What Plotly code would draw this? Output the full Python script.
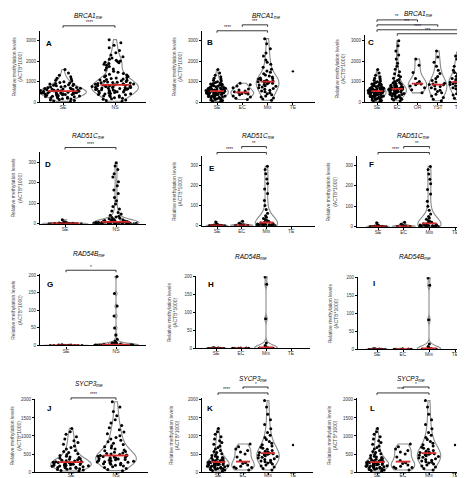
import numpy as np
import plotly.graph_objects as go

W, H = 465, 478

# ---------------- data ----------------
SE_BRCA1 = [1590, 1420, 1310, 1230, 1165, 1120, 1060, 1025, 990, 960, 935, 905, 880, 870, 845, 820,
            805, 790, 770, 745, 730, 715, 700, 688, 672, 660, 648, 633, 620, 612, 600, 590, 583, 574,
            566, 555, 548, 540, 532, 525, 516, 505, 497, 488, 480, 470, 462, 455, 446, 437, 428, 420,
            412, 403, 395, 384, 373, 362, 350, 338, 326, 312, 300, 288, 272, 258, 243, 230, 212, 196,
            180, 160, 142, 120, 98, 75, 52, 30]
NS_BRCA1 = [3050, 2900, 2780, 2650, 2520, 2410, 2300, 2220, 2150, 2090, 2040, 2010, 1980, 1950, 1920,
            1890, 1850, 1800, 1740, 1680, 1620, 1560, 1500, 1450, 1400, 1360, 1320, 1290, 1260, 1230,
            1200, 1175, 1150, 1125, 1100, 1080, 1060, 1040, 1020, 1000, 985, 970, 955, 940, 925, 910,
            895, 880, 866, 852, 840, 828, 816, 805, 795, 785, 775, 765, 755, 745, 735, 725, 715, 705,
            695, 684, 672, 660, 648, 636, 624, 612, 600, 586, 572, 558, 544, 530, 515, 500, 485, 470,
            455, 440, 422, 405, 388, 370, 350, 330, 310, 290, 265, 240, 215, 190, 160, 130, 100, 70, 40]
ECpure_BRCA1 = [920, 850, 780, 700, 640, 590, 540, 500, 470, 440, 420, 390, 350, 300, 250, 190, 120]
Mix_BRCA1 = [3100, 2850, 2600, 2400, 2250, 2050, 1950, 1850, 1700, 1600, 1520, 1450, 1380, 1320, 1270,
             1220, 1180, 1150, 1120, 1090, 1060, 1030, 1010, 1000, 990, 970, 950, 920, 890, 860, 830,
             800, 770, 740, 700, 660, 620, 580, 540, 500, 450, 400, 350, 300, 250, 200, 150, 90]
TEpure_BRCA1 = [1500]
EC_BRCA1 = [3000, 2750, 2500, 2300, 2100, 1900, 1750, 1600, 1480, 1380, 1300, 1230, 1160, 1100, 1050,
            1000, 960, 930, 900, 870, 845, 820, 800, 780, 760, 740, 725, 710, 695, 680, 668, 656, 645,
            634, 622, 610, 598, 586, 574, 562, 550, 538, 524, 510, 496, 480, 465, 450, 434, 418, 400,
            382, 364, 345, 325, 305, 284, 262, 240, 215, 190, 160, 130, 95, 60]
OR_BRCA1 = [2100, 1800, 1450, 1150, 1000, 920, 880, 850, 780, 700, 600, 450]
YST_BRCA1 = [2500, 2200, 1950, 1750, 1550, 1400, 1250, 1150, 1050, 980, 920, 880, 860, 840, 800, 760,
             700, 640, 580, 520, 450, 380, 300, 220, 140, 60]
TE_BRCA1 = [2450, 2250, 2100, 1950, 1850, 1750, 1650, 1550, 1450, 1380, 1320, 1260, 1200, 1150, 1100,
            1060, 1030, 1010, 990, 970, 950, 920, 890, 860, 830, 790, 750, 700, 650, 600, 540, 480,
            410, 340, 270, 190, 110]

SE_RAD51C = [19, 8, 6, 5, 4, 3.5, 3, 2.5, 2, 2, 1.5, 1.5, 1, 1, 1, 0.8, 0.6, 0.5, 0.4, 0.3, 0.2, 0.2,
             0.1, 0.1]
NS_RAD51C = [298, 282, 265, 245, 228, 205, 186, 165, 148, 128, 112, 96, 84, 72, 62, 55, 48, 42, 37, 33,
             30, 27, 24, 22, 20, 18, 16, 15, 14, 13, 12, 11, 10, 9.5, 9, 8.5, 8, 7.5, 7, 6.5, 6, 5.5,
             5, 4.5, 4, 4, 3.5, 3.5, 3, 3, 2.5, 2.5, 2, 2, 2, 1.5, 1.5, 1.5, 1, 1, 1, 1, 0.8, 0.8,
             0.6, 0.6, 0.5, 0.4, 0.3, 0.2]
EC_RAD51C = [22, 12, 8, 5, 3, 2, 1.5, 1, 0.8, 0.5, 0.3]
Mix_RAD51C = [295, 280, 258, 232, 210, 182, 160, 125, 100, 80, 62, 50, 42, 36, 30, 26, 22, 19, 16, 14,
              12, 10, 9, 8, 7, 6, 5, 4.5, 4, 3.5, 3, 2.5, 2, 1.5, 1, 0.8, 0.5]
TE_RAD51C = []

SE_RAD54B = [2, 1.5, 1, 0.8, 0.6, 0.5, 0.4, 0.3, 0.3, 0.2, 0.2, 0.1, 0.1, 0.1, 0.05]
NS_RAD54B = [196, 148, 112, 84, 50, 30, 18, 12, 9, 7, 6, 5, 4, 3.5, 3, 2.5, 2, 2, 1.5, 1.5, 1, 1, 1,
             0.8, 0.8, 0.6, 0.5, 0.5, 0.4, 0.3, 0.2, 0.2, 0.1]
EC_RAD54B = [1.5, 1, 0.6, 0.4, 0.3, 0.2, 0.1]
Mix_RAD54B = [198, 178, 82, 15, 8, 5, 3, 2, 1.5, 1, 0.8, 0.5, 0.3, 0.2]
TE_RAD54B = []

SE_SYCP3 = [1210, 1120, 1050, 980, 920, 870, 820, 770, 720, 680, 640, 600, 570, 540, 510, 485, 462,
            440, 420, 402, 385, 370, 356, 342, 330, 318, 306, 296, 287, 280, 273, 266, 259, 252, 245,
            238, 231, 224, 217, 210, 203, 196, 189, 182, 175, 168, 160, 152, 144, 136, 128, 120, 110,
            100, 90, 80, 70, 58, 45, 30]
NS_SYCP3 = [1950, 1800, 1680, 1560, 1450, 1360, 1290, 1230, 1170, 1110, 1060, 1010, 960, 920, 880, 840,
            800, 765, 730, 700, 670, 640, 615, 590, 570, 550, 532, 516, 500, 486, 472, 460, 450, 440,
            430, 420, 410, 400, 390, 380, 370, 360, 350, 340, 330, 320, 310, 300, 290, 280, 270, 258,
            246, 234, 220, 205, 190, 172, 150, 125, 100, 70, 40]
EC_SYCP3 = [780, 700, 640, 600, 560, 500, 420, 320, 260, 240, 200, 160, 145, 130, 110, 60]
Mix_SYCP3 = [1980, 1800, 1600, 1450, 1320, 1200, 1100, 1020, 960, 900, 850, 800, 760, 720, 690, 660,
             630, 600, 580, 560, 545, 530, 520, 510, 495, 480, 465, 450, 430, 410, 390, 370, 350, 330,
             310, 290, 270, 250, 225, 200, 170, 140, 100, 60]
TE_SYCP3 = [750]

CATS2 = ['SE', 'NS']
CATS4 = ['SE', 'EC', 'Mix', 'TE']
CATS5 = ['SE', 'EC', 'OR', 'YST', 'TE']
TICKS_BRCA1 = [0, 1000, 2000, 3000]
TICKS_RAD51C = [0, 100, 200, 300]
TICKS_RAD54B = [0, 50, 100, 150, 200]
TICKS_SYCP3 = [0, 500, 1000, 1500, 2000]

panels = [
    dict(letter='A', gene='BRCA1', cats=CATS2, data=[SE_BRCA1, NS_BRCA1], ticks=TICKS_BRCA1,
         comps=[(0, 1, '****')]),
    dict(letter='B', gene='BRCA1', cats=CATS4, data=[SE_BRCA1, ECpure_BRCA1, Mix_BRCA1, TEpure_BRCA1],
         ticks=TICKS_BRCA1, comps=[(0, 2, '****'), (1, 2, '***')]),
    dict(letter='C', gene='BRCA1', cats=CATS5, data=[SE_BRCA1, EC_BRCA1, OR_BRCA1, YST_BRCA1, TE_BRCA1],
         ticks=TICKS_BRCA1, comps=[(0, 2, '**'), (0, 3, '***'), (0, 4, '****'), (1, 4, '***')]),
    dict(letter='D', gene='RAD51C', cats=CATS2, data=[SE_RAD51C, NS_RAD51C], ticks=TICKS_RAD51C,
         comps=[(0, 1, '****')]),
    dict(letter='E', gene='RAD51C', cats=CATS4, data=[SE_RAD51C, EC_RAD51C, Mix_RAD51C, TE_RAD51C],
         ticks=TICKS_RAD51C, comps=[(0, 2, '****'), (1, 2, '**')]),
    dict(letter='F', gene='RAD51C', cats=CATS4, data=[SE_RAD51C, EC_RAD51C, Mix_RAD51C, TE_RAD51C],
         ticks=TICKS_RAD51C, comps=[(0, 2, '****'), (1, 2, '**')]),
    dict(letter='G', gene='RAD54B', cats=CATS2, data=[SE_RAD54B, NS_RAD54B], ticks=TICKS_RAD54B,
         comps=[(0, 1, '*')]),
    dict(letter='H', gene='RAD54B', cats=CATS4, data=[SE_RAD54B, EC_RAD54B, Mix_RAD54B, TE_RAD54B],
         ticks=TICKS_RAD54B, comps=[]),
    dict(letter='I', gene='RAD54B', cats=CATS4, data=[SE_RAD54B, EC_RAD54B, Mix_RAD54B, TE_RAD54B],
         ticks=TICKS_RAD54B, comps=[]),
    dict(letter='J', gene='SYCP3', cats=CATS2, data=[SE_SYCP3, NS_SYCP3], ticks=TICKS_SYCP3,
         comps=[(0, 1, '****')]),
    dict(letter='K', gene='SYCP3', cats=CATS4, data=[SE_SYCP3, EC_SYCP3, Mix_SYCP3, TE_SYCP3],
         ticks=TICKS_SYCP3, comps=[(0, 2, '****'), (1, 2, '*')]),
    dict(letter='L', gene='SYCP3', cats=CATS4, data=[SE_SYCP3, EC_SYCP3, Mix_SYCP3, TE_SYCP3],
         ticks=TICKS_SYCP3, comps=[(0, 2, '****'), (1, 2, '*')]),
]

# ---------------- layout geometry (pixels) ----------------
geoms = [
    dict(x0=32, x1=138, c0=55, dc=52, yz=93, yt=31, vt=3000, top=21, title=(80, 6), let=(41, 34),
         lab=23, so=-2, bars=[(16, 0.5)]),
    dict(x0=194, x1=307, c0=209, dc=25.3, yz=93, yt=31, vt=3000, top=21, title=(258, 6), let=(202, 33),
         lab=25, so=-2, bars=[(21, 0.2), (15, 0.5)]),
    dict(x0=357, x1=460, c0=369, dc=20.25, yz=93, yt=31, vt=3000, top=25, title=(410, 4), let=(363, 33),
         lab=25, so=-2, bars=[(10, 0.5), (15, 0.5), (20, 0.5), (24, 0.5)]),
    dict(x0=32, x1=138, c0=57, dc=51, yz=216, yt=154, vt=300, top=143, title=(80, 127), let=(40, 156),
         lab=23, so=-2, bars=[(139, 0.5)]),
    dict(x0=194, x1=307, c0=209, dc=24.7, yz=218, yt=157, vt=300, top=148, title=(250, 127), let=(204, 160),
         lab=25, so=-2, bars=[(144, 0.26), (138, 0.5)]),
    dict(x0=349, x1=463, c0=370, dc=25.7, yz=219, yt=157, vt=300, top=148, title=(405, 127), let=(363, 156),
         lab=25, so=-2, bars=[(144, 0.35), (138, 0.5)]),
    dict(x0=32, x1=138, c0=58, dc=50, yz=339, yt=268, vt=200, top=267, title=(81, 247), let=(42, 277),
         lab=23, so=-2, bars=[(263, 0.5)]),
    dict(x0=188, x1=302, c0=208, dc=25, yz=342, yt=269, vt=200, top=269, title=(243, 250), let=(203, 277),
         lab=24, so=-2, bars=[]),
    dict(x0=350, x1=463, c0=369, dc=26, yz=343, yt=270, vt=200, top=270, title=(407, 250), let=(366, 276),
         lab=25, so=-2, bars=[]),
    dict(x0=27, x1=140, c0=63, dc=45, yz=467, yt=394, vt=2000, top=393, title=(81, 378), let=(41, 403),
         lab=19, so=-4, bars=[(392, 0.5)]),
    dict(x0=194, x1=305, c0=210, dc=25, yz=467, yt=394, vt=2000, top=392, title=(245, 373), let=(202, 403),
         lab=28, so=-4, bars=[(387, 0.16), (381, 0.5)]),
    dict(x0=349, x1=463, c0=369, dc=26, yz=467, yt=394, vt=2000, top=392, title=(403, 373), let=(364, 403),
         lab=25, so=-4, bars=[(387, 0.45), (381, 0.5)]),
]

FONT = 'Liberation Sans, Arial, sans-serif'
fig = go.Figure()
layout = dict(width=W, height=H, margin=dict(l=0, r=0, t=0, b=0), paper_bgcolor='white',
              plot_bgcolor='white', showlegend=False, font=dict(family=FONT, color='#333'),
              violinmode='overlay')
annotations = []
shapes = []


def px(xp):
    return xp / W


def py(yp):
    return 1 - yp / H


for k, (p, g) in enumerate(zip(panels, geoms)):
    sfx = '' if k == 0 else str(k + 1)
    xa, ya = 'x' + sfx, 'y' + sfx
    xr = [(g['x0'] - g['c0']) / g['dc'], (g['x1'] - g['c0']) / g['dc']]
    ppu = (g['yz'] - g['yt']) / g['vt']
    yr = [0, (g['yz'] - g['top']) / ppu]
    for i, vals in enumerate(p['data']):
        if len(vals) == 0:
            continue
        if len(vals) < 3:
            fig.add_trace(go.Scatter(x=[i] * len(vals), y=vals, mode='markers', xaxis=xa, yaxis=ya,
                                     marker=dict(size=2.4, color='black'), cliponaxis=False))
            continue
        fig.add_trace(go.Violin(x0=i, y=vals, xaxis=xa, yaxis=ya, width=0.9, points='all', jitter=1.0,
                                pointpos=0, spanmode='hard', scalemode='width',
                                line=dict(color='#8a8a8a', width=1.1), fillcolor='white',
                                marker=dict(size=3, color='black', line=dict(width=0)),
                                box=dict(visible=False), meanline=dict(visible=False)))
    for i, vals in enumerate(p['data']):
        if len(vals) < 3:
            continue
        med = float(np.median(vals))
        fig.add_trace(go.Scatter(x=[i - 0.28, i + 0.28], y=[med, med], mode='lines', xaxis=xa, yaxis=ya,
                                 line=dict(color='#d42a2a', width=1.8)))
    common = dict(showline=True, linecolor='black', linewidth=1.1, ticks='outside', ticklen=2,
                  tickwidth=0.9, tickcolor='black', showgrid=False, zeroline=False, fixedrange=True)
    layout['xaxis' + sfx] = dict(domain=[px(g['x0']), px(g['x1'])], anchor=ya, range=xr, type='linear',
                                 tickvals=list(range(len(p['cats']))), ticktext=p['cats'],
                                 ticklabelstandoff=g['so'],
                                 tickfont=dict(size=5, color='#333'), **common)
    layout['yaxis' + sfx] = dict(domain=[py(g['yz']), py(g['top'])], anchor=xa, range=yr,
                                 tickvals=p['ticks'], ticktext=[str(t) for t in p['ticks']],
                                 tickfont=dict(size=4.5, color='#333'), **common)
    # title
    annotations.append(dict(x=px(g['title'][0]), y=py(g['title'][1]), xref='paper', yref='paper',
                            text='<i>%s<sub>me</sub></i>' % p['gene'], showarrow=False,
                            font=dict(size=6.5, color='black'), xanchor='center', yanchor='middle'))
    # panel letter
    annotations.append(dict(x=px(g['let'][0]), y=py(g['let'][1]), xref='paper', yref='paper',
                            text='<b>%s</b>' % p['letter'], showarrow=False,
                            font=dict(size=8, color='black'), xanchor='center', yanchor='middle'))
    # y label
    annotations.append(dict(x=px(g['x0'] - g['lab']), y=py((g['yz'] + g['top']) / 2), xref='paper',
                            yref='paper', text='Relative methylation levels<br>(ACTB*1000)',
                            textangle=-90, showarrow=False, font=dict(size=5, color='#444'),
                            xanchor='center', yanchor='middle'))
    # significance brackets
    for (a, b, lab), (ybar, frac) in zip(p['comps'], g['bars']):
        yb = py(ybar)
        ytk = py(ybar + 2)
        shapes.append(dict(type='path', xref=xa, yref='paper',
                           path='M %f,%f L %f,%f L %f,%f L %f,%f' % (a, ytk, a, yb, b, yb, b, ytk),
                           line=dict(color='#222', width=0.9)))
        annotations.append(dict(x=a + frac * (b - a), y=yb, xref=xa, yref='paper', text=lab,
                                showarrow=False, font=dict(size=4.5, color='#222'),
                                xanchor='center', yanchor='bottom', yshift=-1.5))

layout['annotations'] = annotations
layout['shapes'] = shapes
fig.update_layout(**layout)
fig.write_html('out.html')
